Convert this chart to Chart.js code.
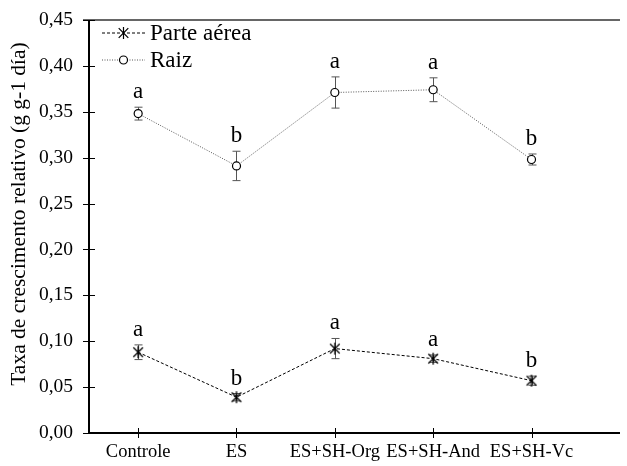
<!DOCTYPE html>
<html>
<head>
<meta charset="utf-8">
<script src="https://cdn.jsdelivr.net/npm/chart.js@4.4.1/dist/chart.umd.min.js"></script>
<style>
  html, body { margin: 0; padding: 0; background: #fff; }
  #wrap { position: relative; width: 627px; height: 466px; }
</style>
</head>
<body>
<div id="wrap"><canvas id="chart"></canvas></div>
<script>
const categories = ['Controle', 'ES', 'ES+SH-Org', 'ES+SH-And', 'ES+SH-Vc'];

const parteAerea = [0.088, 0.039, 0.092, 0.081, 0.057];
const parteAereaErr = [0.008, 0.004, 0.011, 0.004, 0.005];
const parteAereaLetters = ['a', 'b', 'a', 'a', 'b'];

const raiz = [0.348, 0.291, 0.371, 0.374, 0.298];
const raizErr = [0.007, 0.016, 0.017, 0.013, 0.006];
const raizLetters = ['a', 'b', 'a', 'a', 'b'];

const yTicks = [0, 0.05, 0.10, 0.15, 0.20, 0.25, 0.30, 0.35, 0.40, 0.45];
const yTitle = 'Taxa de crescimento relativo (g g-1 día)';

const serif = "'Liberation Serif', 'DejaVu Serif', serif";

const toPoints = (vals) => vals.map((v, i) => ({ x: i + 1, y: v }));

// asterisk marker: vertical bar plus an X
function drawAsterisk(ctx, x, y, r) {
    const d = r * 0.8;
    ctx.beginPath();
    ctx.moveTo(x, y - r); ctx.lineTo(x, y + r);
    ctx.moveTo(x - d, y - d); ctx.lineTo(x + d, y + d);
    ctx.moveTo(x - d, y + d); ctx.lineTo(x + d, y - d);
    ctx.stroke();
}
const asterisk = document.createElement('canvas');
asterisk.width = 14; asterisk.height = 14;
(function () {
    const c = asterisk.getContext('2d');
    c.strokeStyle = '#000';
    c.lineWidth = 1.3;
    drawAsterisk(c, 7, 7, 6);
})();

// error bars, letters, axes, title and legend drawn by hand
const extras = {
    id: 'extras',
    beforeDatasetsDraw(chart) {
        const ctx = chart.ctx;
        const xs = chart.scales.x, ys = chart.scales.y;
        ctx.save();
        ctx.strokeStyle = '#555';
        ctx.lineWidth = 1;
        chart.data.datasets.forEach((ds) => {
            ds.data.forEach((p, i) => {
                const e = ds.errors[i];
                const x = Math.round(xs.getPixelForValue(p.x)) + 0.5;
                const y1 = ys.getPixelForValue(p.y + e);
                const y2 = ys.getPixelForValue(p.y - e);
                ctx.beginPath();
                ctx.moveTo(x, y1); ctx.lineTo(x, y2);
                ctx.moveTo(x - 4, y1); ctx.lineTo(x + 4, y1);
                ctx.moveTo(x - 4, y2); ctx.lineTo(x + 4, y2);
                ctx.stroke();
            });
        });
        ctx.restore();
    },
    afterDraw(chart) {
        const ctx = chart.ctx;
        const xs = chart.scales.x, ys = chart.scales.y;
        const a = chart.chartArea;
        ctx.save();

        // letters above error bars
        ctx.fillStyle = '#000';
        ctx.font = '23px ' + serif;
        ctx.textAlign = 'center';
        ctx.textBaseline = 'alphabetic';
        chart.data.datasets.forEach((ds) => {
            ds.data.forEach((p, i) => {
                const x = xs.getPixelForValue(p.x);
                const y = ys.getPixelForValue(p.y + ds.errors[i]);
                ctx.fillText(ds.letters[i], x, y - 9);
            });
        });

        // axis title
        ctx.save();
        ctx.translate(19, 214);
        ctx.rotate(-Math.PI / 2);
        ctx.font = '21.5px ' + serif;
        ctx.textAlign = 'center';
        ctx.textBaseline = 'middle';
        ctx.fillText(yTitle, 0, 0);
        ctx.restore();

        // axes
        ctx.strokeStyle = '#000';
        ctx.lineWidth = 2;
        ctx.beginPath();
        ctx.moveTo(a.left, a.top); ctx.lineTo(a.left, a.bottom); ctx.lineTo(a.right, a.bottom);
        ctx.stroke();
        ctx.strokeStyle = '#333';
        ctx.lineWidth = 1.5;
        ctx.beginPath();
        ctx.moveTo(a.left - 6, a.top); ctx.lineTo(a.right, a.top);
        ctx.stroke();

        ctx.strokeStyle = '#000';
        ctx.lineWidth = 1;
        ctx.beginPath();
        yTicks.forEach((t) => {
            const y = Math.round(ys.getPixelForValue(t)) + 0.5;
            ctx.moveTo(a.left - 6, y); ctx.lineTo(a.left + 6, y);
        });
        categories.forEach((c, i) => {
            const x = Math.round(xs.getPixelForValue(i + 1)) + 0.5;
            ctx.moveTo(x, a.bottom - 5); ctx.lineTo(x, a.bottom + 5);
        });
        ctx.stroke();

        // legend
        ctx.font = '23px ' + serif;
        ctx.textAlign = 'left';
        ctx.textBaseline = 'middle';
        chart.data.datasets.forEach((ds, i) => {
            const y = 33 + i * 27;
            const x0 = a.left + 13, x1 = a.left + 56, xm = (x0 + x1) / 2;
            ctx.strokeStyle = ds.borderColor;
            ctx.lineWidth = 1;
            ctx.setLineDash(ds.borderDash);
            ctx.beginPath();
            ctx.moveTo(x0, y); ctx.lineTo(x1, y);
            ctx.stroke();
            ctx.setLineDash([]);
            ctx.strokeStyle = '#000';
            ctx.lineWidth = 1.2;
            if (i === 0) {
                drawAsterisk(ctx, xm, y, 6);
            } else {
                ctx.fillStyle = '#fff';
                ctx.beginPath();
                ctx.arc(xm, y, ds.pointRadius, 0, Math.PI * 2);
                ctx.fill();
                ctx.stroke();
            }
            ctx.fillStyle = '#000';
            ctx.fillText(ds.label, x1 + 5, y + 1);
        });
        ctx.restore();
    }
};

new Chart(document.getElementById('chart'), {
    type: 'line',
    data: {
        datasets: [{
            label: 'Parte aérea',
            data: toPoints(parteAerea),
            errors: parteAereaErr,
            letters: parteAereaLetters,
            borderColor: '#000',
            borderWidth: 1,
            borderDash: [3, 2],
            pointStyle: asterisk,
            pointRadius: 6,
            tension: 0,
        }, {
            label: 'Raiz',
            data: toPoints(raiz),
            errors: raizErr,
            letters: raizLetters,
            borderColor: '#555',
            borderWidth: 1,
            borderDash: [1, 1.5],
            pointStyle: 'circle',
            pointRadius: 4,
            pointBorderColor: '#000',
            pointBorderWidth: 1.2,
            pointBackgroundColor: '#fff',
            tension: 0,
        }],
    },
    options: {
        responsive: true,
        maintainAspectRatio: false,
        animation: false,
        events: [],
        layout: { padding: { top: 20, right: 0, left: 0, bottom: 0 } },
        scales: {
            x: {
                type: 'linear',
                min: 0.5,
                max: 5.9,
                afterBuildTicks: (scale) => {
                    scale.ticks = categories.map((c, i) => ({ value: i + 1 }));
                },
                afterFit: (scale) => {
                    scale.height = 33;
                    scale.paddingLeft = 0; scale.paddingRight = 0;
                },
                grid: { display: false, drawTicks: false },
                border: { display: false },
                ticks: {
                    autoSkip: false,
                    maxRotation: 0,
                    padding: 8,
                    color: '#000',
                    font: { family: serif, size: 18.5 },
                    callback: (v) => categories[v - 1],
                },
            },
            y: {
                min: 0,
                max: 0.45,
                afterBuildTicks: (scale) => {
                    scale.ticks = yTicks.map((t) => ({ value: t }));
                },
                afterFit: (scale) => {
                    scale.width = 89;
                    scale.paddingTop = 0; scale.paddingBottom = 0;
                },
                grid: { display: false, drawTicks: false },
                border: { display: false },
                ticks: {
                    padding: 16,
                    color: '#000',
                    font: { family: serif, size: 19.5 },
                    callback: (v) => v.toFixed(2).replace('.', ','),
                },
            },
        },
        plugins: {
            legend: { display: false },
            tooltip: { enabled: false },
        },
    },
    plugins: [extras],
});
</script>
</body>
</html>
